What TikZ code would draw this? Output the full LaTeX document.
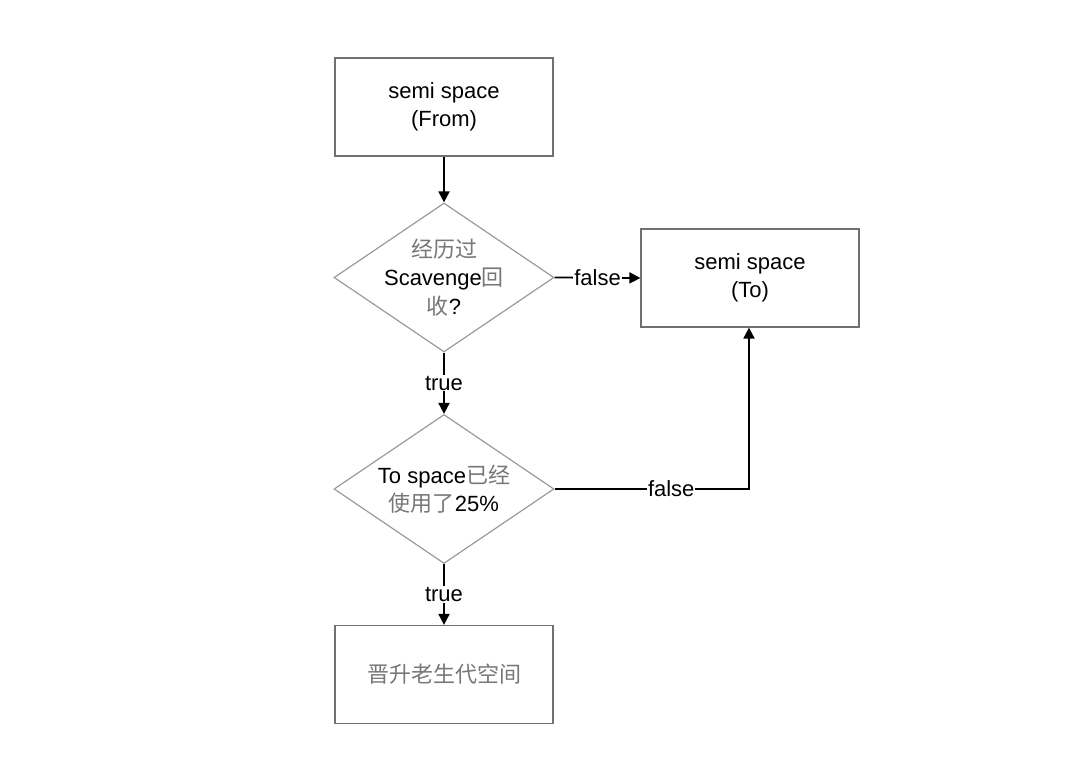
\documentclass[tikz,border=0pt]{standalone}
\usepackage{fontspec}
\setmainfont{Liberation Sans}
\newfontfamily\cjk{Noto Sans CJK SC}
\usetikzlibrary{shapes.geometric,arrows.meta}
\definecolor{boxgray}{HTML}{707070}
\definecolor{dgray}{HTML}{9A9A9A}
\definecolor{zhgray}{HTML}{777777}
\newcommand{\zh}[1]{{\cjk\color{zhgray}#1}}
\tikzset{
  every node/.style={font=\fontsize{22}{28.5}\selectfont, text=black},
  procbox/.style={draw=boxgray, line width=1.2pt, minimum width=218pt, minimum height=98pt, align=center, inner sep=0pt},
  decision/.style={draw=dgray, line width=1.2pt, diamond, minimum width=220pt, minimum height=149pt, aspect=1.476, inner sep=0pt},
  dtext/.style={align=center, inner sep=0pt},
  conn/.style={draw=black, line width=1.8pt, -{Triangle[length=11pt,width=11pt]}},
  lbl/.style={fill=white, inner sep=1pt}
}
\begin{document}
\begin{tikzpicture}[x=1pt,y=-1pt]
\useasboundingbox (0,0) rectangle (1088,778);
\node[procbox] (from) at (444,107) {semi space\\(From)};
\node[decision] (d1) at (444,277.5) {};
\node[dtext] (d1t) at (d1.center) {\zh{经历过}\\Scavenge\zh{回}\\\zh{收}?};
\node[procbox] (to) at (750,278) {semi space\\(To)};
\node[decision] (d2) at (444,489) {};
\node[dtext] (d2t) at (d2.center) {To space\zh{已经}\\\zh{使用了}25\%};
\node[procbox] (old) at (444,674.5) {\zh{晋升老生代空间}};
\coordinate (corner) at (749,489);
\draw[conn] (from.south) -- (d1.north);
\draw[conn] (d1.east) -- node[lbl] {false} (to.west);
\draw[conn] (d1.south) -- node[lbl] {true} (d2.north);
\draw[conn] (d2.south) -- node[lbl] {true} (old.north);
\draw[conn] (d2.east) -- node[lbl, pos=0.6] {false} (corner) -- (to.south -| corner);
\end{tikzpicture}
\end{document}
